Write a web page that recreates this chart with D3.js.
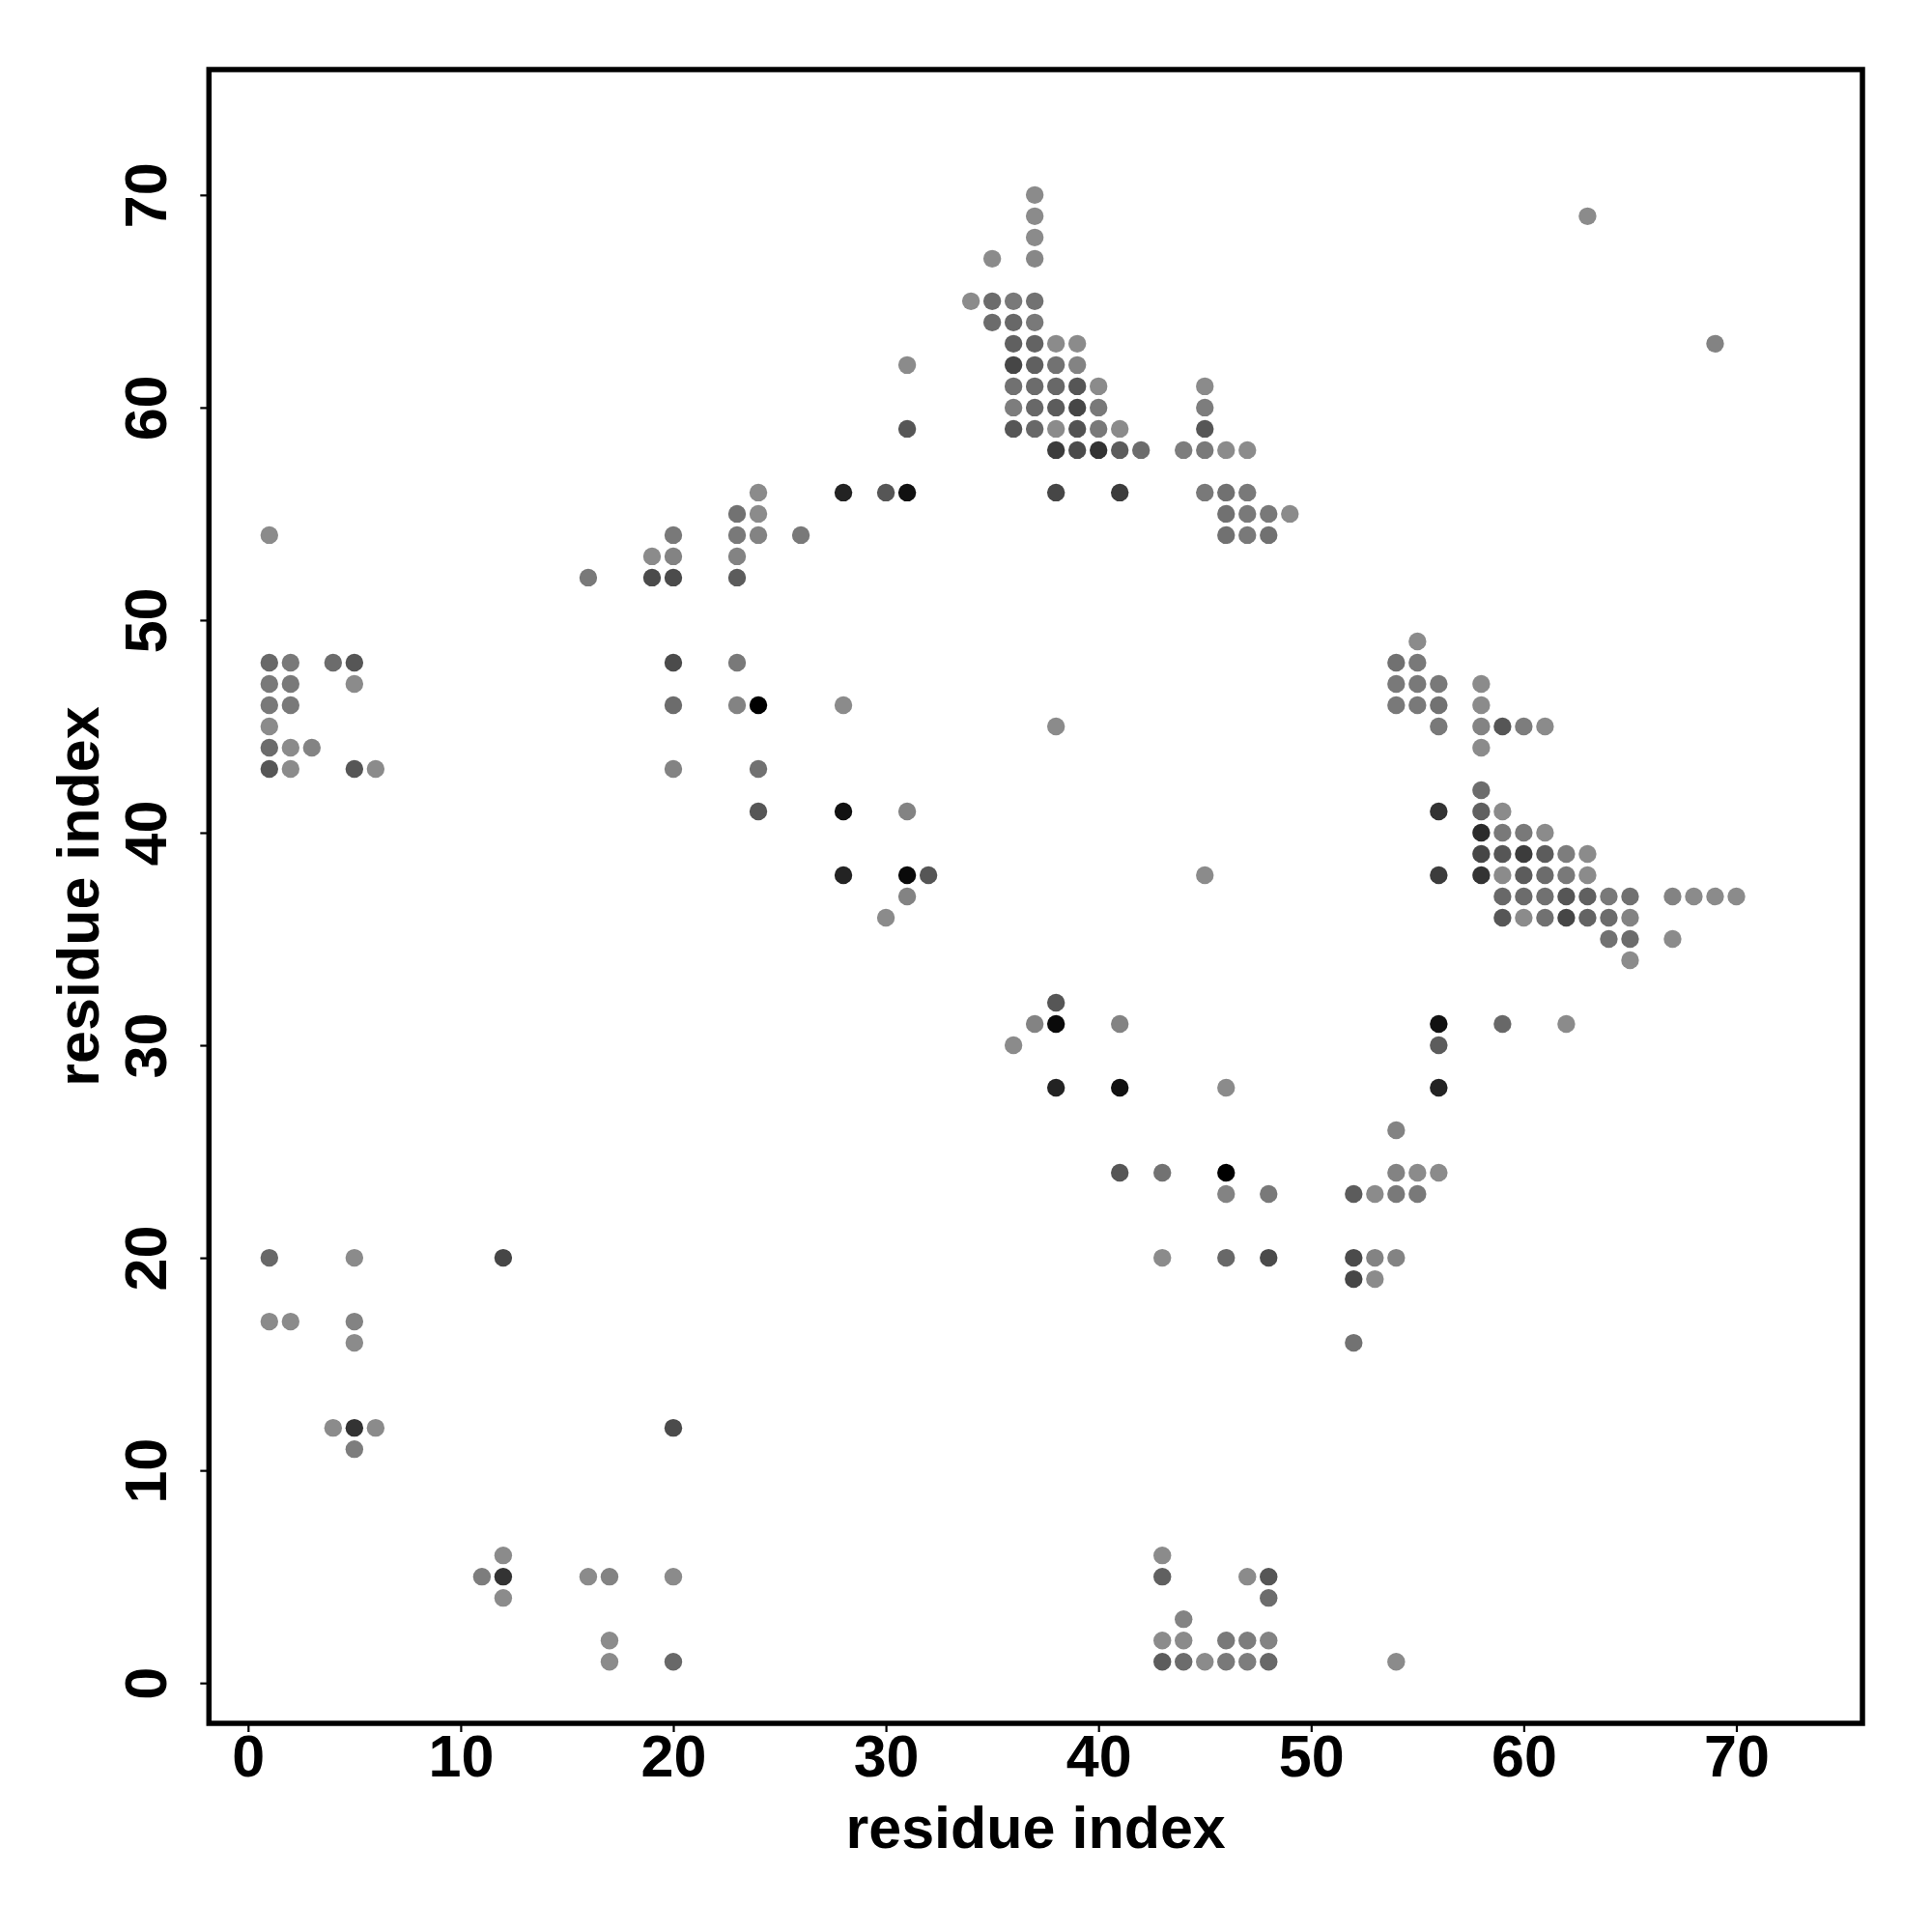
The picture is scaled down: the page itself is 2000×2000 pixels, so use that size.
<!DOCTYPE html>
<html>
<head>
<meta charset="utf-8">
<script src="https://cdn.jsdelivr.net/npm/d3@7"></script>
<style>
  html, body { margin: 0; padding: 0; background: #fff; }
  svg { display: block; }
  text { font-family: "Liberation Sans", Arial, Helvetica, sans-serif; font-weight: bold; }
</style>
</head>
<body>
<svg id="chart" width="2000" height="2000"></svg>
<script>
// ---- data: contact map points (residue i, residue j, contact strength 0..1) ----
const resI = [
  37,37,37,35,37,34,35,36,37,35,36,37,36,37,38,39,36,37,38,39,36,37,38,39,40,45,36,37,38,39,40,45,
  36,37,38,39,40,41,45,38,39,40,41,42,44,45,46,47,38,41,45,46,47,46,47,48,49,46,47,48,
  55,54,55,54,55,56,58,54,55,56,58,56,58,59,60,61,58,58,56,58,59,58,59,60,61,58,59,60,61,62,63,
  56,58,59,60,61,62,63,59,60,61,62,63,64,65,67,68,69,70,59,60,61,62,63,64,65,64,65,67,65,
  1,1,2,4,5,1,2,5,1,2,1,1,2,3,1,2,5,6,
  24,28,30,31,23,24,20,23,24,26,19,20,23,16,19,20,23,20,23,20,23,24,28,20,24,24,28,31,28,31,32,31,30,31,31,
  38,37,38,41,56,36,56,38,41,46,56,54,41,43,46,54,55,56,46,48,52,53,54,55,43,46,48,52,53,54,52,53,52,
  1,5,12,1,2,5,5,4,5,6,20,5,12,11,12,16,17,20,12,17,17,20,
  43,43,47,48,48,44,43,44,46,47,48,43,44,45,46,47,48,54,
  63,69,45,38,59,62
];
const resJ = [
  70,69,68,67,67,65,65,65,65,64,64,64,63,63,63,63,62,62,62,62,61,61,61,61,61,61,60,60,60,60,60,60,
  59,59,59,59,59,59,59,58,58,58,58,58,58,58,58,58,56,56,56,56,56,55,55,55,55,54,54,54,
  49,48,48,47,47,47,47,46,46,46,46,45,45,45,45,45,44,42,41,41,41,40,40,40,40,39,39,39,39,39,39,
  38,38,38,38,38,38,38,37,37,37,37,37,37,37,37,37,37,37,36,36,36,36,36,36,36,35,35,35,34,
  54,48,48,48,48,47,47,47,46,46,45,44,44,44,43,43,43,43,
  56,56,56,56,55,55,54,54,54,54,53,53,53,52,52,52,52,48,48,46,46,46,46,43,43,41,41,41,38,38,38,37,36,62,59,
  32,31,31,31,31,30,30,28,28,28,28,26,24,24,24,24,24,24,23,23,23,23,23,23,20,20,20,20,20,20,19,19,16,
  20,20,20,17,17,17,16,12,12,12,12,11,6,5,5,5,5,5,4,2,1,1,
  6,5,5,5,4,3,2,2,2,2,2,1,1,1,1,1,1,1,
  69,63,38,45,31,31
];
const strength = [
  0.00,0.00,0.00,0.00,0.03,0.00,0.22,0.13,0.18,0.22,0.25,0.13,0.31,0.29,0.00,0.00,0.50,0.31,0.18,0.06,0.19,0.22,0.25,0.38,0.00,0.00,0.10,0.25,0.34,0.50,0.13,0.10,
  0.38,0.25,0.00,0.41,0.13,0.00,0.38,0.57,0.46,0.63,0.34,0.22,0.10,0.13,0.00,0.00,0.50,0.57,0.13,0.19,0.13,0.19,0.13,0.13,0.00,0.19,0.13,0.19,
  0.00,0.19,0.13,0.13,0.13,0.13,0.00,0.13,0.13,0.18,0.00,0.13,0.06,0.38,0.10,0.00,0.00,0.22,0.63,0.31,0.00,0.69,0.13,0.13,0.00,0.50,0.38,0.57,0.34,0.10,0.00,
  0.57,0.63,0.00,0.34,0.22,0.13,0.00,0.25,0.22,0.19,0.38,0.31,0.13,0.19,0.06,0.00,0.00,0.00,0.38,0.00,0.19,0.50,0.29,0.22,0.06,0.19,0.22,0.00,0.00,
  0.00,0.25,0.13,0.22,0.38,0.13,0.13,0.00,0.13,0.13,0.00,0.22,0.00,0.06,0.38,0.00,0.38,0.00,
  0.00,0.75,0.38,0.88,0.18,0.00,0.13,0.13,0.06,0.13,0.00,0.06,0.06,0.13,0.46,0.46,0.34,0.46,0.13,0.22,0.06,1.00,0.00,0.06,0.19,0.38,0.88,0.06,0.75,0.93,0.38,0.06,0.00,0.00,0.38,
  0.38,0.06,0.93,0.06,0.88,0.00,0.34,0.75,0.88,0.00,0.75,0.06,0.38,0.18,1.00,0.06,0.00,0.00,0.06,0.13,0.34,0.00,0.13,0.13,0.00,0.25,0.46,0.46,0.06,0.06,0.50,0.00,0.18,
  0.25,0.00,0.50,0.00,0.00,0.06,0.00,0.00,0.63,0.00,0.46,0.10,0.00,0.10,0.63,0.00,0.06,0.00,0.00,0.00,0.00,0.25,
  0.00,0.31,0.00,0.38,0.22,0.06,0.00,0.00,0.13,0.10,0.06,0.34,0.22,0.00,0.13,0.10,0.25,0.00,
  0.00,0.06,0.00,0.00,0.25,0.00
];
const tickValues = [0, 10, 20, 30, 40, 50, 60, 70];
const xTitle = "residue index";
const yTitle = "residue index";

// ---- layout ----
const box = { left: 216.3, right: 1928, top: 72, bottom: 1784 };
const x = d3.scaleLinear().domain([-1.84, 75.93]).range([box.left, box.right]);
const y = d3.scaleLinear().domain([-1.9, 75.9]).range([box.bottom, box.top]);
const shade = d3.scaleLinear().domain([0, 1]).range(["#8b8b8b", "#000000"]);

const svg = d3.select("#chart");
svg.append("rect").attr("width", 2000).attr("height", 2000).attr("fill", "#fff");

const pts = resI.map((v, k) => ({ i: v, j: resJ[k], s: strength[k] }));

svg.append("g").selectAll("circle").data(pts).join("circle")
  .attr("cx", d => x(d.i))
  .attr("cy", d => y(d.j))
  .attr("r", 9.2)
  .attr("fill", d => shade(d.s));

// axes
const fontSize = 61;
const xAxis = svg.append("g")
  .attr("transform", `translate(0,${box.bottom})`)
  .call(d3.axisBottom(x).tickValues(tickValues).tickSize(9).tickFormat(d3.format("d")));
xAxis.select(".domain").remove();
xAxis.selectAll(".tick line").attr("stroke", "#000").attr("stroke-width", 2.2);
xAxis.selectAll(".tick text")
  .attr("y", 55).attr("dy", null)
  .attr("font-size", fontSize).attr("fill", "#000")
  .style("font-family", '"Liberation Sans", Arial, sans-serif').style("font-weight", "bold");

const yAxis = svg.append("g")
  .attr("transform", `translate(${box.left},0)`)
  .call(d3.axisLeft(y).tickValues(tickValues).tickSize(9).tickFormat(d3.format("d")));
yAxis.select(".domain").remove();
yAxis.selectAll(".tick line").attr("stroke", "#000").attr("stroke-width", 2.2);
yAxis.selectAll(".tick text")
  .attr("x", null).attr("dy", null).attr("y", null)
  .attr("text-anchor", "middle")
  .attr("transform", `translate(${172 - box.left},0) rotate(-90)`)
  .attr("font-size", fontSize).attr("fill", "#000")
  .style("font-family", '"Liberation Sans", Arial, sans-serif').style("font-weight", "bold");

// frame
svg.append("rect")
  .attr("x", box.left).attr("y", box.top)
  .attr("width", box.right - box.left).attr("height", box.bottom - box.top)
  .attr("fill", "none").attr("stroke", "#000").attr("stroke-width", 5.5);

// titles
svg.append("text")
  .attr("x", (box.left + box.right) / 2).attr("y", 1913)
  .attr("text-anchor", "middle").attr("font-size", fontSize).attr("fill", "#000")
  .text(xTitle);
svg.append("text")
  .attr("transform", `translate(102,${(box.top + box.bottom) / 2}) rotate(-90)`)
  .attr("text-anchor", "middle").attr("font-size", fontSize).attr("fill", "#000")
  .text(yTitle);
</script>
</body>
</html>
